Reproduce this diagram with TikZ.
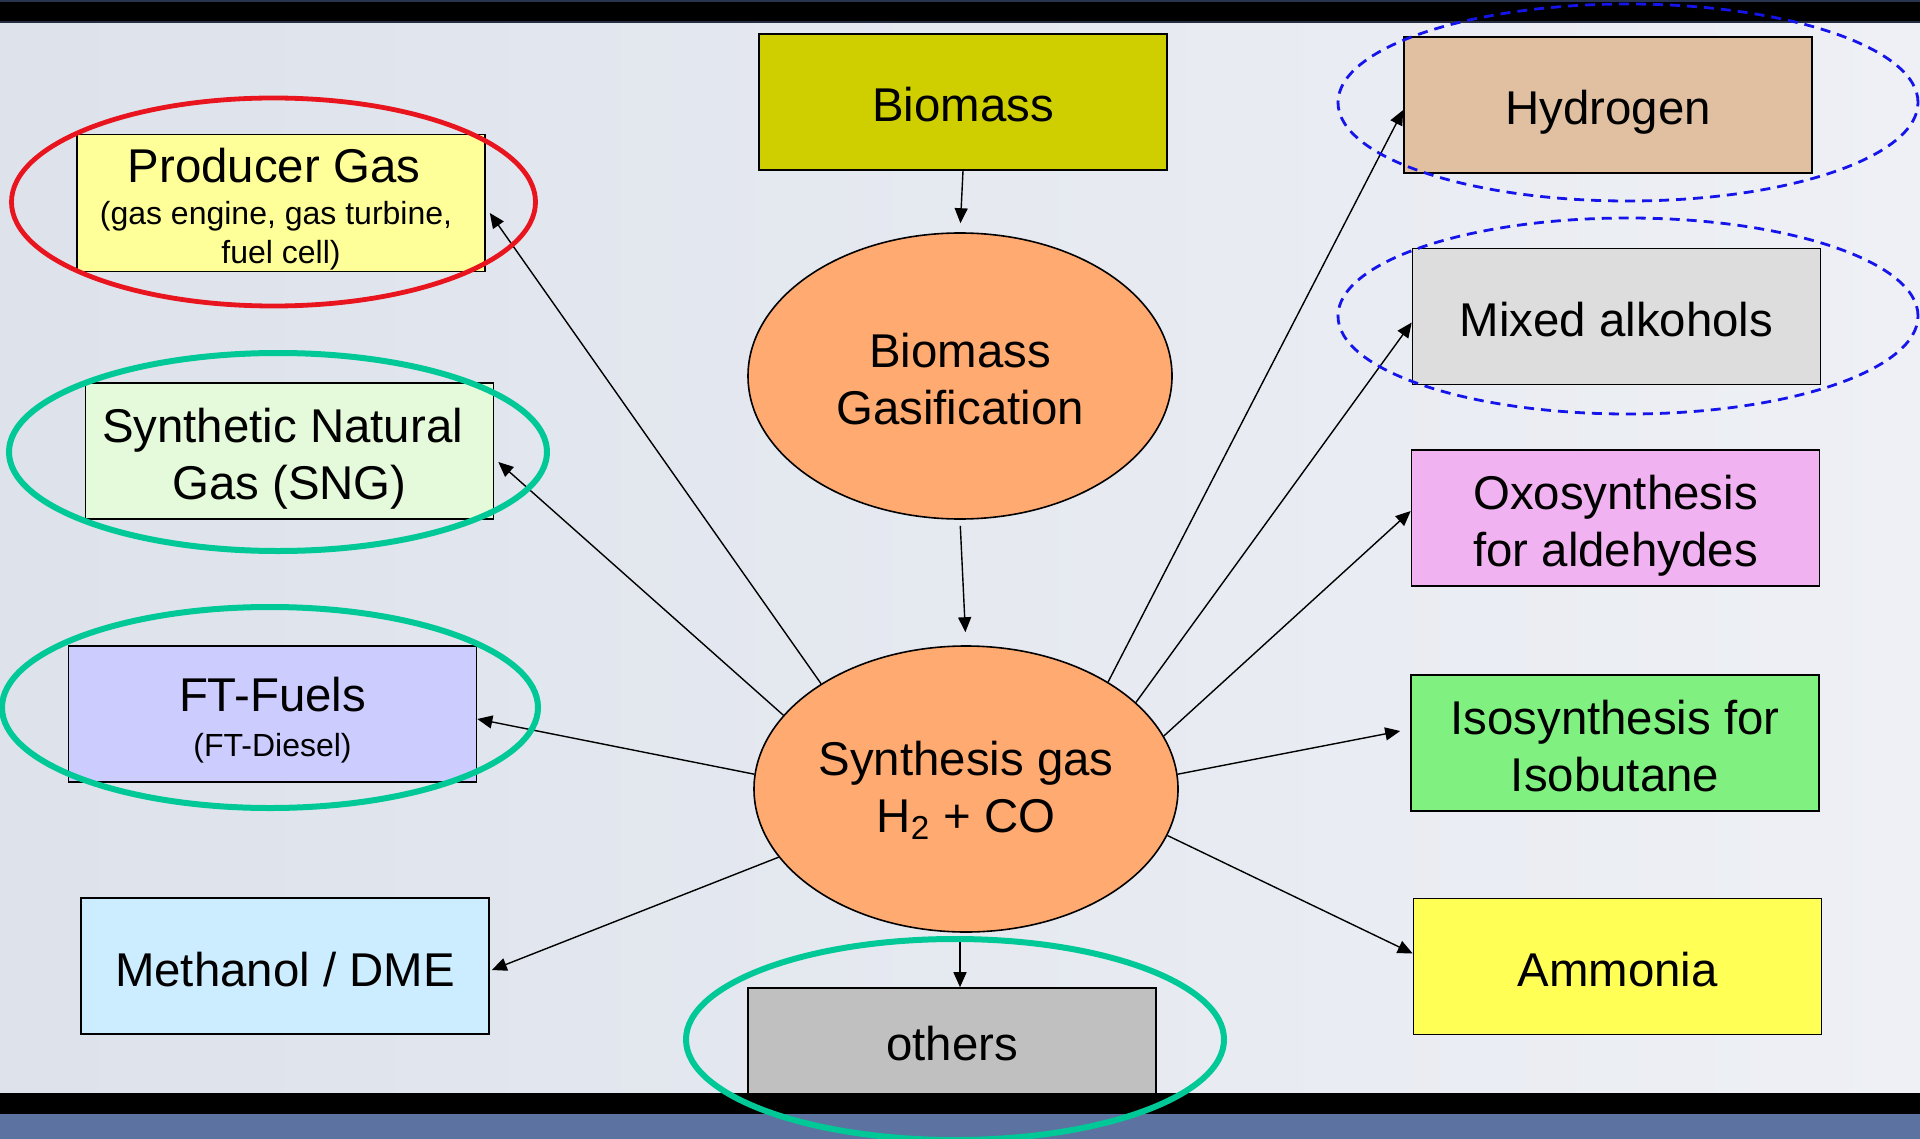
\documentclass[tikz,border=0pt]{standalone}
\usepackage{fontspec}
\setmainfont{Liberation Sans}
\usetikzlibrary{arrows.meta,shapes.geometric}
\definecolor{bgl}{RGB}{221,226,235}
\definecolor{bgr}{RGB}{238,240,245}
\definecolor{navyc}{RGB}{40,52,80}
\definecolor{stripc}{RGB}{92,114,160}
\definecolor{biomc}{RGB}{207,207,0}
\definecolor{orc}{RGB}{255,170,112}
\definecolor{prodc}{RGB}{255,255,153}
\definecolor{sngc}{RGB}{228,250,218}
\definecolor{ftc}{RGB}{204,204,255}
\definecolor{methc}{RGB}{204,236,255}
\definecolor{othc}{RGB}{192,192,192}
\definecolor{hydc}{RGB}{224,192,160}
\definecolor{mixc}{RGB}{221,221,221}
\definecolor{oxoc}{RGB}{240,178,240}
\definecolor{isoc}{RGB}{128,240,128}
\definecolor{ammc}{RGB}{255,255,85}
\definecolor{ringred}{RGB}{232,20,30}
\definecolor{ringgreen}{RGB}{0,200,150}
\definecolor{ringblue}{RGB}{20,20,235}
\newcommand\fbig{\fontsize{23.7}{28.5}\selectfont\lineskiplimit=-40pt\lineskip=0pt}
\newcommand\fsmall{\fontsize{16}{19.5}\selectfont\lineskiplimit=-40pt\lineskip=0pt}
\newcommand\bs{\rule[-5.5pt]{0pt}{31pt}}
\newcommand\smst{\rule[-5.5pt]{0pt}{18pt}}
\newcommand\ost{\rule[-8.5pt]{0pt}{31pt}}
\newcommand\pst{\rule{0pt}{24pt}}
\newcommand\pend{\rule[-4pt]{0pt}{14pt}}
\newcommand\synt{\rule{0pt}{22pt}}
\newcommand\synb{\rule[-7.5pt]{0pt}{24pt}}
\tikzset{
  box/.style={rectangle, draw=black, line width=0.8pt, minimum width=204pt, minimum height=68pt, inner sep=0pt, align=center, font=\fbig},
  oval/.style={ellipse, draw=black, line width=0.8pt, fill=orc, minimum width=212pt, minimum height=143pt, inner sep=0pt, align=center, font=\fbig},
  ring/.style={ellipse, inner sep=0pt},
  greenring/.style={ring, draw=ringgreen, line width=3pt},
  bluering/.style={ring, draw=ringblue, line width=1.4pt, dash pattern=on 5pt off 3.5pt},
  arr/.style={-{Triangle[length=7.5pt,width=6.5pt]}, line width=0.7pt, black}
}
\begin{document}
\begin{tikzpicture}[x=0.5pt,y=-0.5pt]
\useasboundingbox (0,0) rectangle (1920,1139);
\shade[left color=bgl, right color=bgr] (0,0) rectangle (1920,1139);

% central column
\node[box, fill=biomc] (biom) at (963,102) {\bs Biomass};
\node[oval] (gas) at (960,376) {\bs Biomass\\\bs Gasification};
\node[oval] (syn) at (966,789) {\synt Synthesis gas\\\synb H\textsubscript{2} + CO};
\node[box, fill=othc, minimum height=58pt] (oth) at (952,1046) {\ost others};

% left column
\node[box, fill=prodc, font=\fsmall] (prod) at (281,203) {{\fbig\pst Producer Gas\kern7pt}\\[1.5pt]\smst(gas engine, gas turbine,\kern5pt\\\pend fuel cell)};
\node[box, fill=sngc] (sng) at (289.5,451) {\bs Synthetic Natural\kern7pt\\\bs Gas (SNG)};
\node[box, fill=ftc, font=\fsmall] (ft) at (272.5,714) {{\fbig\bs FT-Fuels}\\[3pt]\smst(FT-Diesel)};
\node[box, fill=methc] (meth) at (285,966) {\bs Methanol / DME};

% right column
\node[box, fill=hydc] (hyd) at (1608,105) {\bs Hydrogen};
\node[box, fill=mixc] (mix) at (1616.5,316.5) {\bs Mixed alkohols};
\node[box, fill=oxoc] (oxo) at (1615.5,518) {\bs Oxosynthesis\\\bs for aldehydes};
\node[box, fill=isoc] (iso) at (1615,743) {\bs Isosynthesis for\\\bs Isobutane};
\node[box, fill=ammc] (amm) at (1617.5,966.5) {\bs Ammonia};

% connectors
\draw[arr, shorten >=4.5pt] (biom.south) -- (gas.north);
\draw[arr, shorten <=3pt, shorten >=6.5pt] (gas.south) -- (syn.north);
\draw[arr] ([xshift=-3pt,yshift=-3pt]syn.south) -- ([xshift=4pt]oth.north);

\draw[arr] (syn.144) -- ([xshift=2pt,yshift=-5pt]prod.east);
\draw[arr] (syn.158) -- ([xshift=2pt,yshift=-5.5pt]sng.east);
\draw[arr] (syn.176) -- ([yshift=-2.5pt]ft.east);
\draw[arr] (syn.200) -- ([xshift=1pt,yshift=-2pt]meth.east);

\draw[arr] (syn.37) -- ([yshift=-2.5pt]hyd.west);
\draw[arr] (syn.27) -- ([yshift=-3pt]mix.west);
\draw[arr] (syn.15.5) -- ([yshift=3.5pt]oxo.west);
\draw[arr] (syn.4) -- ([xshift=-5pt,yshift=6pt]iso.west);
\draw[arr] (syn.347) -- ([yshift=6.5pt]amm.west);

% frame bars
\fill[black] (0,0) rectangle (1920,21);
\fill[navyc] (0,0) rectangle (1920,2);
\fill[black!60!stripc] (0,21) rectangle (1920,23);
\fill[black] (0,1093) rectangle (1920,1114);
\fill[stripc] (0,1114) rectangle (1920,1139);

% highlight rings
\node[ring, draw=ringred, line width=2.4pt, minimum width=262pt, minimum height=104pt] (prodring) at (273.5,202) {};
\node[greenring, minimum width=269pt, minimum height=99pt] (sngring) at (278,452) {};
\node[greenring, minimum width=268pt, minimum height=100.5pt] (ftring) at (270,707.5) {};
\node[greenring, minimum width=269pt, minimum height=100.5pt] (othring) at (955,1039.5) {};
\node[bluering, minimum width=290pt, minimum height=98.5pt] (hydring) at (1628,102.5) {};
\node[bluering, minimum width=290pt, minimum height=98pt] (mixring) at (1628,316) {};
\end{tikzpicture}
\end{document}
